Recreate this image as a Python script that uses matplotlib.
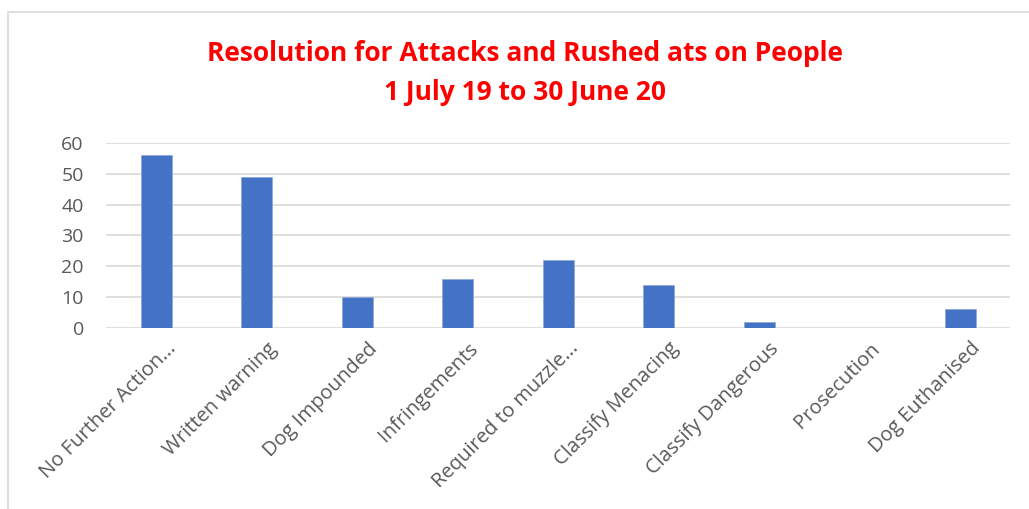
import numpy as np
import matplotlib
matplotlib.use("Agg")
import matplotlib.pyplot as plt
from matplotlib.patches import Rectangle

categories = ["No Further Action...", "Written warning", "Dog Impounded",
              "Infringements", "Required to muzzle...", "Classify Menacing",
              "Classify Dangerous", "Prosecution", "Dog Euthanised"]
values = [56, 49, 10, 16, 22, 14, 2, 0, 6]
yticks = [0, 10, 20, 30, 40, 50, 60]

plt.rcParams['font.family'] = ['Open Sans', 'DejaVu Sans']

fig = plt.figure(figsize=(10.29, 5.09), dpi=100)
ax = fig.add_axes([0.103, 0.356, 0.879, 0.363])

# chart area border (left and top only visible)
fig.patches.append(Rectangle((8 / 1029, -0.1), 1.2, 1 - 12 / 509 + 0.1,
                             transform=fig.transFigure, fill=False,
                             edgecolor='#d9d9d9', linewidth=1.2))

x = np.arange(len(categories))
ax.bar(x, values, width=0.31, color='#4472C4', edgecolor='#8FAADC',
       linewidth=0.6, zorder=3)

ax.set_xlim(-0.5, len(categories) - 0.5)
ax.set_ylim(0, 60)
ax.set_yticks(yticks)
ax.yaxis.grid(True, color='#d9d9d9', linewidth=1.2, zorder=0)
for s in ax.spines.values():
    s.set_visible(False)
ax.tick_params(axis='both', length=0, colors='#595959', labelsize=14)
ax.tick_params(axis='y', pad=16)
ax.set_xticks(x)
ax.set_xticklabels(categories, rotation=45, ha='right',
                   rotation_mode='anchor', color='#595959', fontsize=14.5)
for lab in ax.get_xticklabels():
    lab.set_transform(lab.get_transform() +
                      matplotlib.transforms.ScaledTranslation(0.1, -0.06, fig.dpi_scale_trans))

fig.text(0.51, 1 - 53 / 509, "Resolution for Attacks and Rushed ats on People",
         ha='center', va='center', color='#FF0000', fontsize=19, fontweight='bold')
fig.text(0.51, 1 - 93 / 509, "1 July 19 to 30 June 20",
         ha='center', va='center', color='#FF0000', fontsize=19, fontweight='bold')

fig.savefig("out.png", dpi=100, facecolor='white')
